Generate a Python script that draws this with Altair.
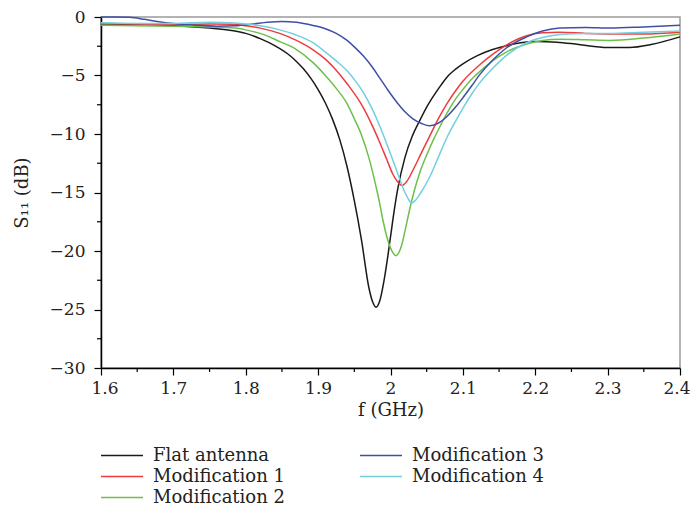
import altair as alt
import pandas as pd

# ---- data ----
f_flat = [1.60, 1.65, 1.70, 1.75, 1.78, 1.80, 1.82, 1.84, 1.86, 1.87, 1.88, 1.89, 1.90, 1.91,
          1.92, 1.93, 1.94, 1.95, 1.96, 1.97, 1.975, 1.98, 1.985, 1.99, 1.995, 2.00, 2.005, 2.01,
          2.02, 2.03, 2.04, 2.05, 2.06, 2.07, 2.08, 2.09, 2.10, 2.12, 2.14, 2.16, 2.18, 2.20,
          2.23, 2.26, 2.30, 2.33, 2.36, 2.40]
s_flat = [-0.60, -0.65, -0.75, -0.95, -1.15, -1.4, -1.85, -2.45, -3.25, -3.8, -4.45, -5.25, -6.2, -7.35,
          -8.75, -10.5, -12.8, -15.7, -19.1, -23.1, -24.3, -24.8, -24.3, -22.9, -21.0, -18.8, -16.6, -14.7,
          -12.0, -10.2, -8.9, -7.7, -6.7, -5.8, -5.0, -4.45, -4.0, -3.3, -2.8, -2.45, -2.2, -2.1,
          -2.15, -2.35, -2.6, -2.6, -2.35, -1.7]

f_mod1 = [1.60, 1.65, 1.70, 1.75, 1.78, 1.80, 1.82, 1.847, 1.87, 1.893, 1.91, 1.925, 1.94, 1.962,
          1.975, 1.985, 1.995, 2.003, 2.010, 2.016, 2.022, 2.031, 2.042, 2.054, 2.066, 2.078, 2.09,
          2.10, 2.123, 2.141, 2.16, 2.188, 2.21, 2.234, 2.27, 2.303, 2.349, 2.40]
s_mod1 = [-0.55, -0.6, -0.65, -0.6, -0.62, -0.75, -0.95, -1.4, -2.0, -2.8, -3.6, -4.55, -5.7, -7.7,
          -9.3, -10.7, -12.2, -13.4, -14.1, -14.4, -14.1, -13.1, -11.7, -10.2, -8.7, -7.4, -6.3,
          -5.5, -4.1, -3.2, -2.4, -1.6, -1.35, -1.3, -1.4, -1.45, -1.45, -1.3]

f_mod2 = [1.60, 1.65, 1.70, 1.75, 1.785, 1.80, 1.82, 1.847, 1.868, 1.893, 1.91, 1.925, 1.94, 1.95,
          1.96, 1.97, 1.98, 1.985, 1.99, 1.995, 2.002, 2.007, 2.015, 2.021, 2.027, 2.034, 2.041,
          2.05, 2.06, 2.068, 2.08, 2.09, 2.10, 2.114, 2.13, 2.141, 2.16, 2.188, 2.21, 2.234, 2.27,
          2.303, 2.349, 2.40]
s_mod2 = [-0.7, -0.75, -0.8, -0.85, -0.95, -1.1, -1.4, -2.1, -2.7, -3.9, -5.0, -6.1, -7.4, -8.7,
          -10.1, -12.0, -14.5, -15.9, -17.5, -18.8, -20.0, -20.4, -19.6, -18.0, -16.3, -14.6, -13.2,
          -11.8, -10.4, -9.4, -8.0, -7.0, -6.2, -5.2, -4.3, -3.75, -3.0, -2.3, -2.0, -1.9, -1.95,
          -2.0, -1.8, -1.45]

f_mod3 = [1.60, 1.62, 1.64, 1.66, 1.68, 1.70, 1.73, 1.76, 1.785, 1.81, 1.83, 1.85, 1.87, 1.893,
          1.91, 1.925, 1.94, 1.95, 1.962, 1.975, 1.985, 1.997, 2.009, 2.02, 2.031, 2.043, 2.054,
          2.065, 2.078, 2.09, 2.10, 2.112, 2.123, 2.141, 2.16, 2.188, 2.21, 2.234, 2.27, 2.303,
          2.349, 2.40]
s_mod3 = [0.0, 0.0, -0.03, -0.2, -0.4, -0.55, -0.7, -0.78, -0.75, -0.6, -0.45, -0.38, -0.45, -0.72,
          -1.0, -1.4, -2.0, -2.55, -3.3, -4.3, -5.2, -6.3, -7.3, -8.1, -8.7, -9.1, -9.3,
          -9.1, -8.5, -7.7, -6.9, -5.9, -4.95, -3.7, -2.65, -1.7, -1.2, -0.95, -0.9, -0.95,
          -0.85, -0.7]

f_mod4 = [1.60, 1.65, 1.70, 1.75, 1.78, 1.80, 1.82, 1.847, 1.868, 1.893, 1.91, 1.925, 1.94, 1.952,
          1.962, 1.975, 1.985, 1.997, 2.009, 2.02, 2.025, 2.029, 2.034, 2.042, 2.054, 2.066, 2.078,
          2.09, 2.10, 2.112, 2.123, 2.141, 2.16, 2.188, 2.21, 2.234, 2.27, 2.303, 2.349, 2.40]
s_mod4 = [-0.5, -0.55, -0.55, -0.45, -0.5, -0.6, -0.75, -1.1, -1.5, -2.2, -3.0, -3.75, -4.6, -5.5,
          -6.4, -7.9, -9.3, -11.2, -13.2, -15.0, -15.6, -15.9, -15.7, -15.0, -13.7, -12.0, -10.3,
          -8.9, -7.8, -6.6, -5.65, -4.4, -3.3, -2.2, -1.75, -1.5, -1.4, -1.4, -1.3, -1.2]

series_names = ["Flat antenna", "Modification 1", "Modification 2", "Modification 3", "Modification 4"]
series_f = [f_flat, f_mod1, f_mod2, f_mod3, f_mod4]
series_s = [s_flat, s_mod1, s_mod2, s_mod3, s_mod4]
series_colors = ["#1a1a1a", "#f03c3c", "#6cc04a", "#3f4fa6", "#72cfe0"]

x_major = [1.6, 1.7, 1.8, 1.9, 2.0, 2.1, 2.2, 2.3, 2.4]
x_minor = [1.65, 1.75, 1.85, 1.95, 2.05, 2.15, 2.25, 2.35]
y_major = [0, -5, -10, -15, -20, -25, -30]
y_minor = [-2.5, -7.5, -12.5, -17.5, -22.5, -27.5]

rows = []
for name, fs, ss in zip(series_names, series_f, series_s):
    for f, s in zip(fs, ss):
        rows.append({"series": name, "f": f, "s": s})
df = pd.DataFrame(rows)

FONT = "DejaVu Serif"
TXT = "#222222"

xscale = alt.Scale(domain=[1.6, 2.4], nice=False, zero=False)
yscale = alt.Scale(domain=[-30, 0], nice=False)

lines = alt.Chart(df).mark_line(strokeWidth=1.5, interpolate="monotone").encode(
    x=alt.X("f:Q", scale=xscale,
            axis=alt.Axis(values=x_major, format="~g", title="f (GHz)", tickSize=7,
                          labelPadding=5, titlePadding=5, labelFlush=True,
                          labelFlushOffset=10)),
    y=alt.Y("s:Q", scale=yscale,
            axis=alt.Axis(values=y_major, format="~g", title="S₁₁ (dB)", tickSize=7,
                          labelPadding=9, titlePadding=18, labelFlush=False)),
    color=alt.Color("series:N", sort=series_names,
                    scale=alt.Scale(domain=series_names, range=series_colors),
                    legend=alt.Legend(title=None, orient="none", legendX=-1, legendY=428,
                                      columns=2, symbolType="stroke", symbolSize=1764,
                                      symbolStrokeWidth=1.5, clipHeight=21, rowPadding=0,
                                      columnPadding=74, labelOffset=9, labelFont=FONT,
                                      labelFontSize=18, labelColor=TXT, labelLimit=400,
                                      padding=0)),
)

yminor_df = pd.DataFrame({"v": y_minor})
xminor_df = pd.DataFrame({"v": x_minor})

yminor = alt.Chart(yminor_df).mark_rule(color="black", strokeWidth=1.2).encode(
    y=alt.Y("v:Q", scale=yscale), x=alt.value(-4), x2=alt.value(0))
xminor = alt.Chart(xminor_df).mark_rule(color="black", strokeWidth=1.2).encode(
    x=alt.X("v:Q", scale=xscale), y=alt.value(351), y2=alt.value(355))

chart = alt.layer(lines, yminor, xminor).properties(
    width=579, height=351,
    padding={"left": 93, "top": 9, "right": 10, "bottom": 140},
    autosize=alt.AutoSizeParams(type="none"),
).configure_view(
    stroke="#9a9a9a", strokeWidth=1.5
).configure_axis(
    grid=False, domainColor="black", domainWidth=1.5, tickColor="black", tickWidth=1.2,
    labelFont=FONT, labelFontSize=17, labelColor=TXT,
    titleFont=FONT, titleFontSize=18, titleFontWeight="normal", titleColor=TXT,
)

chart.save("out.html", embed_options={"renderer": "svg", "actions": False})
